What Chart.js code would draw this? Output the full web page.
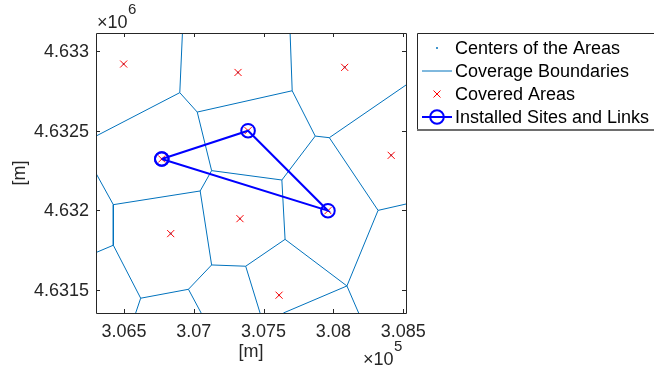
<!DOCTYPE html>
<html>
<head>
<meta charset="utf-8">
<script src="https://cdn.jsdelivr.net/npm/chart.js@4.4.1/dist/chart.umd.min.js"></script>
<style>
  html, body { margin: 0; padding: 0; background: #fff; }
  #wrap { width: 654px; height: 368px; }
</style>
</head>
<body>
<div id="wrap"><canvas id="myChart" width="654" height="368"></canvas></div>
<script>
const AreaColor = "#0072BD";
const CoveredColor = "#FF0000";
const SiteColor = "#0000FF";
const AxisColor = "#262626";
const FontName = "'Liberation Sans', Arial, Helvetica, sans-serif";

// centres of the covered areas [m]
const areaX = [306498, 307317, 308081, 308414, 306771, 307389, 307961, 307331, 306835, 307611];
const areaY = [4632920, 4632867, 4632899, 4632346, 4632323, 4632501, 4631998, 4631948, 4631854, 4631467];

// installed sites, in link order (loop closes on the first one)
const siteX = [306771, 307389, 307961, 306771];
const siteY = [4632323, 4632501, 4631998, 4632323];

// coverage boundary vertices, the last twelve sit on the axes border
const vertexX = [306900, 307025, 307705, 307870, 307971, 307128, 307631, 307046, 306424, 306424,
  306620, 306962, 307128, 307372, 307654, 308097, 308320,
  306919, 306300, 307690, 308520, 306300, 306300, 306584, 307053, 307475, 307642, 308181, 308520];
const vertexY = [4632740, 4632618, 4632752, 4632467, 4632457, 4632250, 4632191, 4632122, 4632036, 4631781,
  4631448, 4631504, 4631657, 4631649, 4631818, 4631525, 4632000,
  4633115, 4632467, 4633115, 4632788, 4632233, 4631735, 4631355, 4631355, 4631355, 4631355, 4631355, 4632040];
const boundaryEdges = [
  [0, 17], [0, 18], [0, 1], [1, 2], [2, 19], [2, 3], [3, 4], [4, 20], [3, 6], [1, 5],
  [5, 6], [5, 7], [6, 14], [7, 8], [8, 21], [8, 9], [9, 22], [9, 10], [10, 23], [10, 11],
  [11, 12], [11, 24], [7, 12], [12, 13], [13, 14], [13, 25], [14, 15], [15, 16], [4, 16],
  [16, 28], [15, 27], [15, 26]
];

const xRange = [306300, 308520];
const yRange = [4631355, 4633115];
const xTicks = [306500, 307000, 307500, 308000, 308500];
const xTickLabels = ["3.065", "3.07", "3.075", "3.08", "3.085"];
const yTicks = [4631500, 4632000, 4632500, 4633000];
const yTickLabels = ["4.6315", "4.632", "4.6325", "4.633"];

const legendLabels = ["Centers of the Areas", "Coverage Boundaries", "Covered Areas", "Installed Sites and Links"];

const toPoints = (xs, ys) => xs.map((x, i) => ({ x: x, y: ys[i] }));

const boundaryData = [];
boundaryEdges.forEach(([a, b]) => {
  boundaryData.push({ x: vertexX[a], y: vertexY[a] });
  boundaryData.push({ x: vertexX[b], y: vertexY[b] });
  boundaryData.push({ x: vertexX[b], y: null });
});

function font(size) {
  return size + "px " + FontName;
}

const axesDecor = {
  id: "axesDecor",
  afterDraw(chart) {
    const ctx = chart.ctx;
    const a = chart.chartArea;
    const xs = chart.scales.x;
    const ys = chart.scales.y;
    ctx.save();
    ctx.strokeStyle = AxisColor;
    ctx.lineWidth = 1;
    ctx.beginPath();
    ctx.rect(Math.round(a.left) + 0.5, Math.round(a.top) + 0.5,
      Math.round(a.right - a.left), Math.round(a.bottom - a.top));
    ctx.stroke();

    // inward tick marks on all four sides
    ctx.beginPath();
    xTicks.forEach((v) => {
      const px = Math.round(xs.getPixelForValue(v)) + 0.5;
      ctx.moveTo(px, a.bottom); ctx.lineTo(px, a.bottom - 4);
      ctx.moveTo(px, a.top); ctx.lineTo(px, a.top + 4);
    });
    yTicks.forEach((v) => {
      const py = Math.round(ys.getPixelForValue(v)) + 0.5;
      ctx.moveTo(a.left, py); ctx.lineTo(a.left + 4, py);
      ctx.moveTo(a.right, py); ctx.lineTo(a.right - 4, py);
    });
    ctx.stroke();

    ctx.fillStyle = AxisColor;
    ctx.font = font(18);
    ctx.textAlign = "center";
    ctx.textBaseline = "alphabetic";
    xTicks.forEach((v, i) => {
      ctx.fillText(xTickLabels[i], xs.getPixelForValue(v), a.bottom + 24);
    });
    ctx.textAlign = "right";
    ctx.textBaseline = "middle";
    yTicks.forEach((v, i) => {
      ctx.fillText(yTickLabels[i], a.left - 7, ys.getPixelForValue(v) + 1);
    });

    // axis titles
    ctx.textAlign = "center";
    ctx.textBaseline = "middle";
    ctx.fillText("[m]", (a.left + a.right) / 2, 352);
    ctx.save();
    ctx.translate(20, (a.top + a.bottom) / 2);
    ctx.rotate(-Math.PI / 2);
    ctx.fillText("[m]", 0, 0);
    ctx.restore();

    // exponent labels
    ctx.textAlign = "left";
    ctx.textBaseline = "alphabetic";
    ctx.font = font(18);
    ctx.fillText("\u00d710", 97, 28);
    ctx.font = font(15);
    ctx.fillText("6", 128, 14);
    ctx.font = font(18);
    ctx.fillText("\u00d710", 363, 365);
    ctx.font = font(15);
    ctx.fillText("5", 394, 351);

    // legend
    const lx = 417, ly = 33, lb = 130;
    ctx.strokeStyle = AxisColor;
    ctx.lineWidth = 1;
    ctx.beginPath();
    ctx.moveTo(660, ly + 0.5); ctx.lineTo(lx + 0.5, ly + 0.5); ctx.lineTo(lx + 0.5, lb);
    ctx.stroke();
    ctx.strokeStyle = "#6e6e6e";
    ctx.lineWidth = 2;
    ctx.beginPath();
    ctx.moveTo(lx, lb); ctx.lineTo(660, lb);
    ctx.stroke();

    const rows = [48, 71, 94, 117];
    const sx = 437;
    ctx.fillStyle = AreaColor;
    ctx.beginPath();
    ctx.arc(sx, rows[0], 1, 0, Math.PI * 2);
    ctx.fill();
    ctx.strokeStyle = AreaColor;
    ctx.lineWidth = 1;
    ctx.beginPath();
    ctx.moveTo(422, rows[1]); ctx.lineTo(452, rows[1]);
    ctx.stroke();
    ctx.strokeStyle = CoveredColor;
    ctx.beginPath();
    ctx.moveTo(sx - 3.5, rows[2] - 3.5); ctx.lineTo(sx + 3.5, rows[2] + 3.5);
    ctx.moveTo(sx + 3.5, rows[2] - 3.5); ctx.lineTo(sx - 3.5, rows[2] + 3.5);
    ctx.stroke();
    ctx.strokeStyle = SiteColor;
    ctx.lineWidth = 2;
    ctx.beginPath();
    ctx.moveTo(422, rows[3]); ctx.lineTo(452, rows[3]);
    ctx.stroke();
    ctx.beginPath();
    ctx.arc(sx, rows[3], 6.8, 0, Math.PI * 2);
    ctx.stroke();

    ctx.fillStyle = "#000";
    ctx.font = font(18);
    ctx.textAlign = "left";
    ctx.textBaseline = "middle";
    legendLabels.forEach((t, i) => ctx.fillText(t, 455, rows[i] + 1));
    ctx.restore();
  }
};

const ctx = document.getElementById("myChart").getContext("2d");
const myChart = new Chart(ctx, {
  type: "scatter",
  data: {
    datasets: [
      {
        label: legendLabels[3],
        data: toPoints(siteX, siteY),
        showLine: true,
        borderColor: SiteColor,
        borderWidth: 2,
        pointStyle: "circle",
        pointRadius: 6.8,
        pointBorderWidth: 2,
        pointBorderColor: SiteColor,
        pointBackgroundColor: "rgba(0,0,0,0)",
      },
      {
        label: legendLabels[2],
        data: toPoints(areaX, areaY),
        pointStyle: "crossRot",
        pointRadius: 5,
        pointBorderWidth: 1,
        pointBorderColor: CoveredColor,
        borderColor: CoveredColor,
      },
      {
        label: legendLabels[1],
        data: boundaryData,
        showLine: true,
        spanGaps: false,
        borderColor: AreaColor,
        borderWidth: 1,
        pointRadius: 0,
      },
      {
        label: legendLabels[0],
        data: toPoints(areaX, areaY),
        pointStyle: "circle",
        pointRadius: 1,
        pointBorderWidth: 0,
        pointBackgroundColor: AreaColor,
      },
    ],
  },
  options: {
    responsive: false,
    animation: false,
    events: [],
    layout: { padding: { left: 96, right: 248, top: 33, bottom: 55 } },
    plugins: { legend: { display: false }, tooltip: { enabled: false } },
    scales: {
      x: { type: "linear", min: xRange[0], max: xRange[1], display: false },
      y: { type: "linear", min: yRange[0], max: yRange[1], display: false },
    },
  },
  plugins: [axesDecor],
});
</script>
</body>
</html>
